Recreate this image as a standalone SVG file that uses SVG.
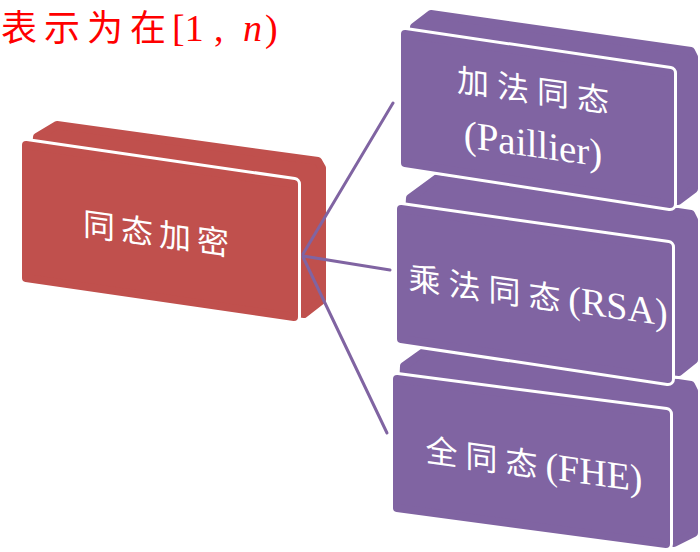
<svg xmlns="http://www.w3.org/2000/svg" width="700" height="552" viewBox="0 0 700 552">
<defs>
<style>
.halo{fill:none;stroke:#fff;stroke-width:14;stroke-linejoin:round}
.red{fill:#C0504D;stroke:#C0504D;stroke-width:8;stroke-linejoin:round}
.pur{fill:#8064A2;stroke:#8064A2;stroke-width:8;stroke-linejoin:round}
.lbl{fill:#fff;font-family:"Liberation Serif","Noto Sans CJK SC",serif;text-anchor:middle}
.cjk{font-family:"Noto Sans CJK SC",sans-serif;font-size:32px;letter-spacing:8px}
.lat{font-family:"Liberation Serif",serif;font-size:38px;letter-spacing:0}
.conn{stroke:#8064A2;stroke-width:3;fill:none;stroke-linecap:round}
.title{fill:#FF0000;font-family:"Liberation Serif","Noto Sans CJK SC",serif}
</style>
</defs>
<rect width="700" height="552" fill="#fff"/>

<text class="title" x="1" y="41"><tspan style="font-family:'Noto Sans CJK SC',sans-serif;font-size:36px;letter-spacing:7px">表示为在</tspan><tspan x="172" font-size="38">[1</tspan><tspan x="214" font-size="38">,</tspan><tspan x="243" font-size="38" font-style="italic">n</tspan><tspan x="265" font-size="38">)</tspan></text>

<g id="node-root">
<polygon class="halo" points="37,137 57,125 318,161 322,168 322,300 304,314 26,278"/>
<polygon class="red" points="37,137 57,125 318,161 322,168 322,300 304,314 26,278"/>
<polygon class="halo" points="26,145 294,184 294,317 26,278"/>
<polygon class="red" points="26,145 294,184 294,317 26,278"/>
<g transform="translate(155,233) skewY(8)"><text class="lbl" x="4" y="12"><tspan class="cjk" style="letter-spacing:6px">同态加密</tspan></text></g>
</g>

<g id="connectors">
<line class="conn" x1="303" y1="254" x2="393" y2="103"/>
<line class="conn" x1="303" y1="256" x2="390" y2="270"/>
<line class="conn" x1="303" y1="257" x2="387" y2="433"/>
</g>

<g id="node-fhe">
<polygon class="halo" points="404,366 432,346 691,385 694,391 694,533 674,543 397,508"/>
<polygon class="pur" points="404,366 432,346 691,385 694,391 694,533 674,543 397,508"/>
<polygon class="halo" points="397,379 666,414 666,544 397,508"/>
<polygon class="pur" points="397,379 666,414 666,544 397,508"/>
<g transform="translate(530,464) skewY(8)"><text class="lbl" x="4" y="12"><tspan class="cjk">全同态</tspan><tspan class="lat">(FHE)</tspan></text></g>
</g>

<g id="node-rsa">
<polygon class="halo" points="410,198 440,176 691,214 694,220 694,360 679,372 401,339"/>
<polygon class="pur" points="410,198 440,176 691,214 694,220 694,360 679,372 401,339"/>
<polygon class="halo" points="401,209 668,247 668,379 401,339"/>
<polygon class="pur" points="401,209 668,247 668,379 401,339"/>
<g transform="translate(534,295) skewY(8)"><text class="lbl" x="4" y="12"><tspan class="cjk">乘法同态</tspan><tspan class="lat">(RSA)</tspan></text></g>
</g>

<g id="node-paillier">
<polygon class="halo" points="414,27 431,14 691,51 694,57 694,189 678,201 405,163"/>
<polygon class="pur" points="414,27 431,14 691,51 694,57 694,189 678,201 405,163"/>
<polygon class="halo" points="405,34 670,73 670,204 405,163"/>
<polygon class="pur" points="405,34 670,73 670,204 405,163"/>
<g transform="translate(533,118) skewY(8)">
<text class="lbl" x="4" y="-16"><tspan class="cjk">加法同态</tspan></text>
<text class="lbl" x="0" y="39"><tspan class="lat" style="font-size:39px">(Paillier)</tspan></text>
</g>
</g>
</svg>
